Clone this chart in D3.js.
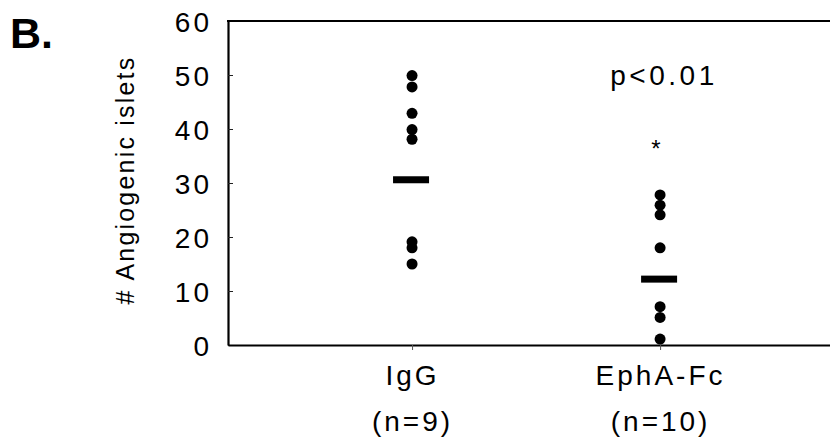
<!DOCTYPE html>
<html>
<head>
<meta charset="utf-8">
<script src="https://cdn.jsdelivr.net/npm/d3@7"></script>
<style>
  body { margin: 0; background: #fff; }
  svg { display: block; font-family: "Liberation Sans", Arial, Helvetica, sans-serif; }
</style>
</head>
<body>
<svg width="830" height="439"></svg>
<script>
var width = 830;
var height = 439;

// data
var categories = ["IgG", "EphA-Fc"];
var counts = ["(n=9)", "(n=10)"];
var igG = [49.9, 47.8, 42.9, 39.9, 38.1, 19.1, 18.0, 15.0];
var ephA = [27.8, 25.9, 24.1, 18.0, 7.1, 5.1, 1.1];
var means = [30.6, 12.2];
var yTicks = [0, 10, 20, 30, 40, 50, 60];

var plotLeft = 228, plotRight = 830, plotTop = 21, plotBottom = 345;

var xScale =
  d3.scaleLinear()
    .domain([-0.742, 1.685])
    .range([plotLeft, plotRight]);

var yScale =
  d3.scaleLinear()
    .domain([0, 60])
    .range([plotBottom, plotTop]);

var svg = d3.select("svg");

var points = []
  .concat(igG.map(v => ({ g: 0, v: v })))
  .concat(ephA.map(v => ({ g: 1, v: v })));

// Y axis, inner ticks
var yAxis =
  d3.axisLeft(yScale)
    .tickValues(yTicks)
    .tickSize(-5)
    .tickSizeOuter(0)
    .tickPadding(16);

var gy = svg.append("g")
    .attr("transform", `translate(${plotLeft}, 0)`)
    .call(yAxis);
gy.select(".domain").attr("stroke", "#000").attr("stroke-width", 2.2);
gy.selectAll(".tick line").attr("stroke", "#222").attr("stroke-width", 1);
gy.selectAll(".tick text")
    .attr("fill", "#000")
    .style("font-size", "28px")
    .style("letter-spacing", "3px")
    .attr("dy", "0.36em");

// X axis
var xAxis =
  d3.axisBottom(xScale)
    .tickValues([0, 1])
    .tickFormat(i => categories[i])
    .tickSize(5)
    .tickSizeOuter(0)
    .tickPadding(14);

var gx = svg.append("g")
    .attr("transform", `translate(0, ${plotBottom})`)
    .call(xAxis);
gx.select(".domain").attr("stroke", "#000").attr("stroke-width", 2.2);
gx.selectAll(".tick line").attr("stroke", "#555").attr("stroke-width", 1);
gx.selectAll(".tick text")
    .attr("fill", "#000")
    .style("font-size", "28px")
    .style("letter-spacing", "3px")
    .attr("dy", null)
    .attr("y", 40)
    .each(function(i) {
      d3.select(this).append("tspan")
        .attr("x", 0)
        .attr("y", 86)
        .text(counts[i]);
    });

// top frame line
svg.append("line")
    .attr("x1", plotLeft - 1)
    .attr("x2", plotRight)
    .attr("y1", yScale(60))
    .attr("y2", yScale(60))
    .attr("stroke", "#000")
    .attr("stroke-width", 2.2);

// dots
svg.selectAll("circle.dot")
  .data(points)
  .enter()
  .append("circle")
    .attr("class", "dot")
    .attr("cx", d => xScale(d.g))
    .attr("cy", d => yScale(d.v))
    .attr("r", 5.5)
    .attr("fill", "#000");

// mean bars
svg.selectAll("rect.mean")
  .data(means)
  .enter()
  .append("rect")
    .attr("class", "mean")
    .attr("x", (d, i) => xScale(i) - 19)
    .attr("y", d => yScale(d) - 3.5)
    .attr("width", 36)
    .attr("height", 7)
    .attr("fill", "#000");

// annotations
svg.append("text")
    .attr("x", 664)
    .attr("y", 85)
    .style("text-anchor", "middle")
    .style("font-size", "28px")
    .style("letter-spacing", "3.5px")
    .text("p<0.01");

svg.append("text")
    .attr("x", 656)
    .attr("y", 157)
    .style("text-anchor", "middle")
    .style("font-size", "24px")
    .text("*");

// y label
svg.append("text")
    .attr("transform", "translate(134, 180) rotate(-90)")
    .style("text-anchor", "middle")
    .style("font-size", "25px")
    .style("letter-spacing", "2.2px")
    .text("# Angiogenic islets");

// panel letter
svg.append("text")
    .attr("x", 10)
    .attr("y", 48)
    .style("font-size", "43px")
    .style("font-weight", "bold")
    .text("B.");
</script>
</body>
</html>
